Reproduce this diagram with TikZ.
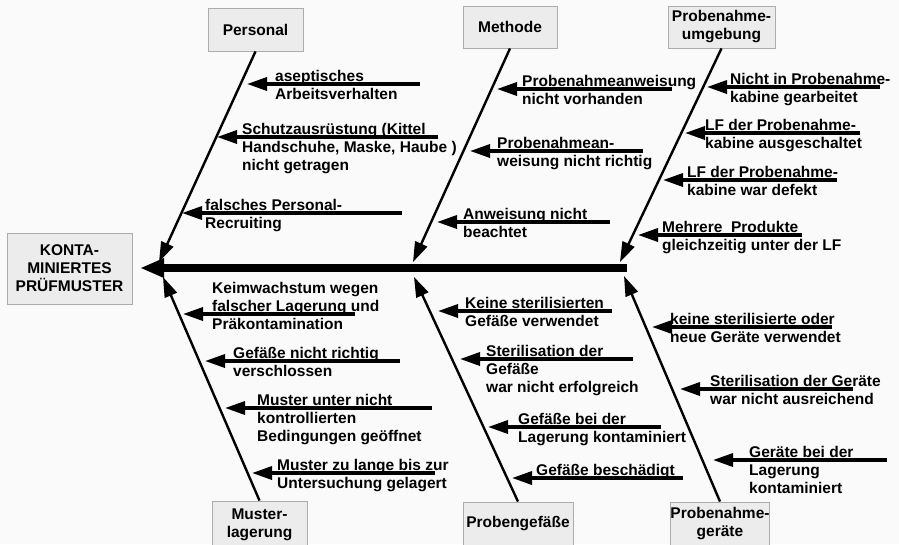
\documentclass[tikz,border=0pt]{standalone}
\usepackage{fontspec}
\setmainfont{Liberation Sans}
\usepackage{tikz}
\usetikzlibrary{arrows.meta}
\newcommand{\fishfont}{\fontsize{15.5}{18}\selectfont\bfseries}
\newcommand{\causelines}[1]{\begin{tabular}[t]{@{}l@{}}#1\end{tabular}}

\begin{document}
\begin{tikzpicture}[x=1pt, y=-1pt, font=\fishfont,
  catbox/.style={draw=gray!65, fill=gray!15, line width=0.9pt, inner sep=0pt, align=center},
  bone/.style={line width=2.4pt, -{Triangle[length=20pt,width=13pt]}},
  spine/.style={line width=7.5pt, -{Triangle[length=24pt,width=18pt]}},
  causearrow/.style={line width=3.4pt, -{Triangle[length=20pt,width=13pt]}},
  cause/.style={anchor=base west, inner sep=0pt}]
  % page (pixel grid, y downwards)
  \fill[black!2] (0,0) rectangle (899,544);
  \useasboundingbox (0,0) rectangle (899,544);
  % effect box and the spine
  \node[catbox, minimum width=125, minimum height=71] (effekt) at (69.5,268.5) {KONTA-\\MINIERTES\\PRÜFMUSTER};
  \coordinate (spR) at (627,268);
  \coordinate (spL) at (140,268);
  \draw[spine] (spR) -- (spL);
  % categories
  \node[catbox, minimum width=95, minimum height=43] (personal) at (255.5,29.5) {Personal};
  \node[catbox, minimum width=94, minimum height=42] (methode) at (510,27) {Methode};
  \node[catbox, minimum width=107, minimum height=42] (umgebung) at (721.5,27) {Probenahme-\\umgebung};
  \node[catbox, minimum width=95, minimum height=47] (lagerung) at (259.5,524.5) {Muster-\\lagerung};
  \node[catbox, minimum width=110, minimum height=44] (gefaesse) at (518,524) {Probengefäße};
  \node[catbox, minimum width=90, minimum height=44] (geraete) at (720,524) {Probenahme-\\geräte};
  % bones onto the spine
  \coordinate (jP) at (159,262);
  \coordinate (jM) at (413,262);
  \coordinate (jU) at (620,262);
  \coordinate (jL) at (163,277);
  \coordinate (jG) at (414,277);
  \coordinate (jR) at (624,276);
  \draw[bone] (personal.south) -- (jP);
  \draw[bone] (methode.south) -- (jM);
  \draw[bone] (umgebung.south) -- (jU);
  \draw[bone] (lagerung.north) -- (jL);
  \draw[bone] (gefaesse.north) -- (jG);
  \draw[bone] (geraete.north) -- (jR);
  % causes: start x / tip x / line y / text x / text lift / text
  \foreach \xs/\xt/\yl/\xl/\dl/\txt [count=\i] in {
    420/247/84/275/0/{aseptisches\\Arbeitsverhalten},
    438/217/137/242/0/{Schutzausrüstung (Kittel\\Handschuhe, Maske, Haube )\\nicht getragen},
    402/182/213/205/0/{falsches Personal-\\Recruiting},
    672/497/89/522/0/{Probenahmeanweisung\\nicht vorhanden},
    643/470/151/497/0/{Probenahmean-\\weisung nicht richtig},
    610/437/222/463/0/{Anweisung nicht\\beachtet},
    880/707/87/730/0/{Nicht in Probenahme-\\kabine gearbeitet},
    860/685/133/705/0/{LF der Probenahme-\\kabine ausgeschaltet},
    837/663/180/687/0/{LF der Probenahme-\\kabine war defekt},
    802/638/235/662/0/{Mehrere\ \ Produkte\\gleichzeitig unter der LF},
    355/183/314/212/18/{Keimwachstum wegen\\falscher Lagerung und\\Präkontamination},
    400/205/361/233/0/{Gefäße nicht richtig\\verschlossen},
    432/225/408/257/0/{Muster unter nicht\\kontrollierten\\Bedingungen geöffnet},
    435/252/473/277/0/{Muster zu lange bis zur\\Untersuchung gelagert},
    612/438/311/465/0/{Keine sterilisierten\\Gefäße verwendet},
    633/460/359/486/0/{Sterilisation der\\Gefäße\\war nicht erfolgreich},
    661/488/427/518/0/{Gefäße bei der\\Lagerung kontaminiert},
    683/512/478/536/0/{Gefäße beschädigt},
    832/652/327/670/0/{keine sterilisierte oder\\neue Geräte verwendet},
    853/680/389/710/0/{Sterilisation der Geräte\\war nicht ausreichend},
    887/713/460/749/0/{Geräte bei der\\Lagerung\\kontaminiert}}
  {
    \coordinate (s\i) at (\xs,\yl);
    \coordinate (t\i) at (\xt,\yl);
    \node[cause] (c\i) at (\xl,\yl-3-\dl) {\causelines{\txt}};
    \draw[causearrow] (s\i) -- (t\i);
  }
\end{tikzpicture}
\end{document}
